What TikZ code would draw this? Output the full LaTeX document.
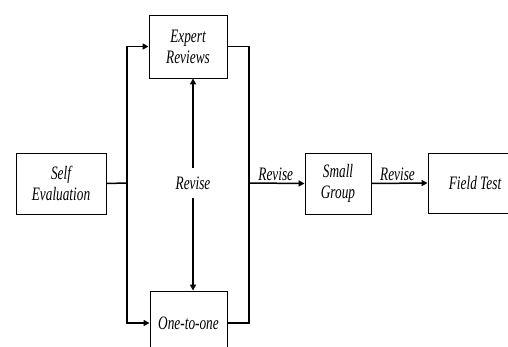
\documentclass[tikz,border=0pt]{standalone}
\usepackage{fontspec}
\newfontfamily\lab[FakeStretch=0.70]{Liberation Serif}
\usetikzlibrary{arrows.meta}
\begin{document}
\begin{tikzpicture}[x=1pt,y=-1pt,
  box/.style={draw,line width=0.9pt,align=center,inner sep=0pt,font=\lab\itshape\fontsize{19}{21}\selectfont},
  conn/.style={line width=1.5pt},
  arr/.style={conn,-{Triangle[length=6pt,width=6pt]}},
  lbl/.style={font=\lab\itshape\fontsize{19}{21}\selectfont,inner sep=1pt}]
\clip (0,0) rectangle (508,347);
\fill[white] (0,0) rectangle (508,347);
\node[box,minimum width=90pt,minimum height=61pt] (self) at (61,183.5) {Self\\Evaluation};
\node[box,minimum width=78pt,minimum height=63pt] (expert) at (188,46.5) {Expert\\Reviews};
\node[box,minimum width=77pt,minimum height=64pt] (one) at (188.5,323) {One-to-one};
\node[box,minimum width=66pt,minimum height=61pt] (small) at (338,183.5) {Small\\Group};
\node[box,minimum width=94pt,minimum height=60pt] (field) at (475,183) {Field Test};
\node[lbl,minimum height=30pt] (rev) at (193,183) {Revise};
\coordinate (jl) at (127,183);
\coordinate (jr) at (249,183);
\draw[conn] (self.east) -- (jl);
\draw[arr] (jl) |- (expert.west);
\draw[arr] (jl) |- (one.west);
\draw[conn] (expert.east) -| (jr) |- (one.east);
\draw[arr] (jr) -- node[lbl,above=1pt,xshift=-1pt] {Revise} (small.west);
\draw[arr] (small.east) -- node[lbl,above=1pt,xshift=-2pt] {Revise} (field.west);
\draw[arr] (rev.north) -- (rev.north |- expert.south);
\draw[arr] (rev.south) -- (rev.south |- one.north);
\end{tikzpicture}
\end{document}
